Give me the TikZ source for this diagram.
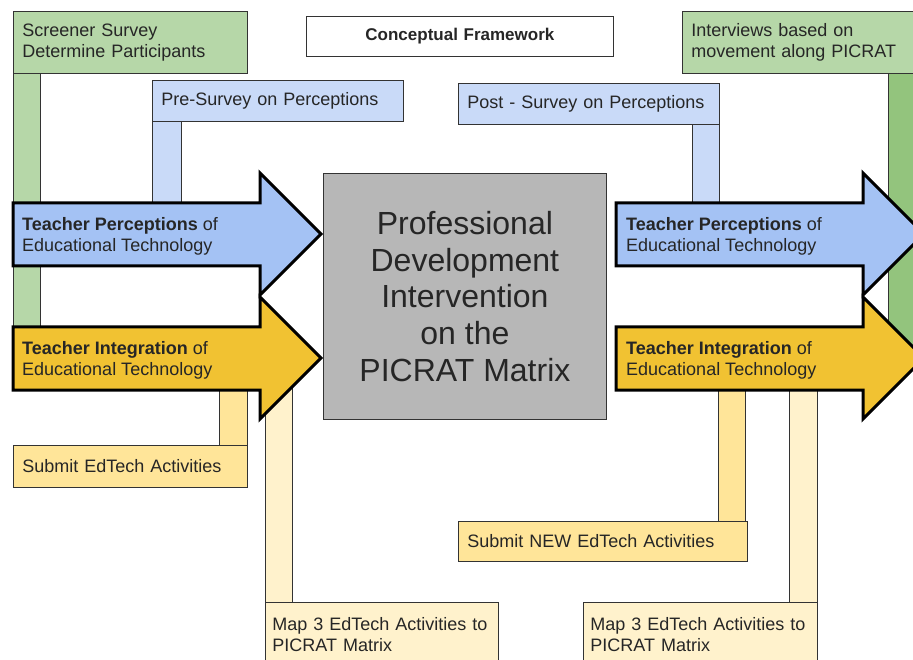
\documentclass[tikz,border=0pt]{standalone}
\usepackage{fontspec}
\setmainfont{Liberation Sans}

\definecolor{greenbox}{HTML}{B6D7A8}
\definecolor{greendark}{HTML}{93C47D}
\definecolor{bluebox}{HTML}{C9DAF8}
\definecolor{bluearrow}{HTML}{A4C2F4}
\definecolor{yellowarrow}{HTML}{F1C232}
\definecolor{yellowbox}{HTML}{FFE599}
\definecolor{yellowpale}{HTML}{FFF2CC}
\definecolor{pdgray}{HTML}{B7B7B7}

\tikzset{
	box/.style={draw=black!80, line width=0.8pt, anchor=north west, align=left,
		inner xsep=9pt, inner ysep=0pt, text=black!85,
		font=\fontsize{18}{21}\selectfont},
	bar/.style={draw=black!80, line width=0.8pt},
	blockarrow/.style={draw=black, line width=3pt, line join=miter},
	arrowtext/.style={anchor=west, align=left, inner sep=0pt, text=black!85,
		font=\fontsize{18}{21}\selectfont}
}

\begin{document}
\begin{tikzpicture}[x=1pt, y=-1pt]
	\useasboundingbox (0,0) rectangle (913,660);
	\clip (0,0) rectangle (913,660);
	% bars behind everything
	\draw[bar, fill=greenbox] (13,73) rectangle (40,340);
	\draw[bar, fill=bluebox] (152,121) rectangle (181,210);
	\draw[bar, fill=greendark] (888,73) rectangle (925,350);
	\draw[bar, fill=bluebox] (692,124) rectangle (719,210);
	\draw[bar, fill=yellowbox] (219,380) rectangle (247,445);
	\draw[bar, fill=yellowpale] (265,380) rectangle (292,602);
	\draw[bar, fill=yellowbox] (718,380) rectangle (745,521);
	\draw[bar, fill=yellowpale] (789,380) rectangle (817,602);
	% block arrows
	\draw[blockarrow, fill=bluearrow] (13,203) -- (260,203) -- (260,173) -- (321,234) -- (260,295) -- (260,266) -- (13,266) -- cycle;
	\draw[blockarrow, fill=yellowarrow] (13,327) -- (260,327) -- (260,297) -- (321,358) -- (260,419) -- (260,390) -- (13,390) -- cycle;
	\draw[blockarrow, fill=bluearrow] (616,203) -- (863,203) -- (863,173) -- (924,234) -- (863,295) -- (863,266) -- (616,266) -- cycle;
	\draw[blockarrow, fill=yellowarrow] (616,327) -- (863,327) -- (863,297) -- (924,358) -- (863,419) -- (863,390) -- (616,390) -- cycle;
	\node[arrowtext] (perc1) at (22,236) {\textbf{Teacher Perceptions} of\\Educational Technology};
	\node[arrowtext] (integ1) at (22,360) {\textbf{Teacher Integration} of\\Educational Technology};
	\node[arrowtext] (perc2) at (626,236) {\textbf{Teacher Perceptions} of\\Educational Technology};
	\node[arrowtext] (integ2) at (626,360) {\textbf{Teacher Integration} of\\Educational Technology};
	% boxes
	\node[box, fill=greenbox, text width=216pt, minimum height=62pt] (screener) at (13,11) {Screener Survey\\Determine Participants};
	\node[box, fill=white, align=center, text width=289pt, minimum height=40pt, font=\fontsize{17}{20}\selectfont\bfseries] (concept) at (306,16) {Conceptual Framework};
	\node[box, fill=greenbox, text width=222pt, minimum height=62pt] (interviews) at (682,11) {Interviews based on\\movement along PICRAT};
	\node[box, fill=bluebox, text width=233pt, minimum height=41pt] (presurvey) at (152,80) {Pre-Survey on Perceptions};
	\node[box, fill=bluebox, text width=243pt, minimum height=41pt] (postsurvey) at (458,83) {Post - Survey on Perceptions};
	\node[draw=black!80, line width=0.8pt, fill=pdgray, anchor=north west, minimum width=283pt, minimum height=246pt, align=center, text=black!85, font=\fontsize{32}{36.8}\selectfont] (pd) at (323,173) {Professional\\Development\\Intervention\\on the\\PICRAT Matrix};
	\node[box, fill=yellowbox, text width=216pt, minimum height=42pt] (submit) at (13,445) {Submit EdTech Activities};
	\node[box, fill=yellowbox, text width=271pt, minimum height=40pt] (submitnew) at (458,521) {Submit NEW EdTech Activities};
	\node[box, fill=yellowpale, text width=219pt, inner xsep=7pt, minimum height=64pt] (mapleft) at (265,602) {Map 3 EdTech Activities to\\PICRAT Matrix};
	\node[box, fill=yellowpale, text width=220pt, inner xsep=7pt, minimum height=64pt] (mapright) at (583,602) {Map 3 EdTech Activities to\\PICRAT Matrix};
\end{tikzpicture}
\end{document}
